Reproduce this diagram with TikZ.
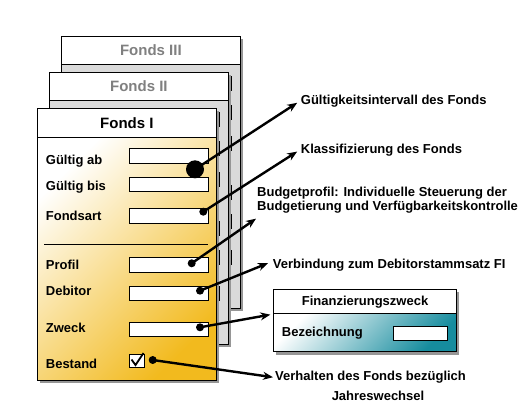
\documentclass[tikz,border=0pt]{standalone}
\usepackage{fontspec}
\setmainfont{Liberation Sans}
\usetikzlibrary{shapes,arrows.meta,positioning}

\definecolor{fondsorange}{RGB}{242,186,30}
\definecolor{fzteal}{RGB}{22,140,158}
\definecolor{blattgrau}{RGB}{218,218,218}
\definecolor{titelgrau}{RGB}{128,128,128}
\definecolor{schattengrau}{RGB}{150,150,150}

\tikzset{
	kopf/.style={draw, fill=white, anchor=north west, inner sep=0pt, line width=0.8pt,
		font=\fontsize{15}{18}\selectfont\bfseries},
	feld/.style={draw, fill=white, anchor=north west, inner sep=0pt, line width=0.8pt,
		minimum width=78.4pt, minimum height=14.5pt},
	lab/.style={anchor=base west, inner sep=1pt, font=\fontsize{13}{15}\selectfont\bfseries},
	txt/.style={anchor=base west, inner sep=1pt, font=\fontsize{13}{15}\selectfont\bfseries},
	punkt/.style={circle, fill=black, inner sep=0pt, minimum size=8pt},
	pfeil/.style={line width=2.4pt, -{Stealth[length=10pt,width=8pt]}},
	schatten/.style={fill=schattengrau}
}

\begin{document}
\begin{tikzpicture}[x=1pt,y=-1pt]
	\useasboundingbox (0,0) rectangle (527,407);
	
	% hintere Blaetter
	\foreach \dx/\dy/\titel in {61/36/Fonds III, 49/72/Fonds II} {
		\fill[schatten] (\dx+3,\dy+3) rectangle ++(179,272);
		\draw[fill=blattgrau, line width=0.8pt] (\dx,\dy) rectangle ++(179,272);
		\foreach \fy in {40,69,100,149,178,214}
			\draw[fill=white, line width=0.6pt] (\dx+92.3,\dy+\fy) rectangle ++(78.4,14.5);
		\node[kopf, text=titelgrau, minimum width=179pt, minimum height=28pt] at (\dx,\dy) {\titel};
	}
	
	% Fonds I
	\fill[schatten] (40,111) rectangle (219,383);
	\shade[top color=white, bottom color=fondsorange, shading angle=45] (37,137) rectangle (216,380);
	\draw[line width=0.8pt] (37,108) rectangle (216,380);
	\node[kopf, minimum width=179pt, minimum height=29pt] (kopf1) at (37,108) {Fonds I};
	
	\node[lab] (labab) at (44.7,164) {Gültig ab};
	\node[lab] (labbis) at (44.7,190.7) {Gültig bis};
	\node[lab] (labart) at (44.7,220.7) {Fondsart};
	\node[lab] (labprofil) at (44.7,269) {Profil};
	\node[lab] (labdeb) at (44.7,295.7) {Debitor};
	\node[lab] (labzweck) at (44.7,332.3) {Zweck};
	\node[lab] (labbest) at (44.7,368.3) {Bestand};
	
	\node[feld] (feldab) at (129.3,148.3) {};
	\node[feld] (feldbis) at (129.3,176.7) {};
	\node[feld] (feldart) at (129.3,208.3) {};
	\draw[line width=0.8pt] (44,244) -- (207.7,244);
	\node[feld] (feldprofil) at (129.3,257.3) {};
	\node[feld] (felddeb) at (129.3,285.7) {};
	\node[feld] (feldzweck) at (129.3,321.7) {};
	\node[feld, minimum width=14.7pt, minimum height=12.7pt] (check) at (129.3,354) {};
	\draw[line width=1.8pt] (131.5,359.5) -- (135.5,365) -- (143.5,353);
	
	% Finanzierungszweck
	\fill[schatten] (276.3,292.3) rectangle (459,354.7);
	\shade[top color=white, bottom color=fzteal, shading angle=45] (273.3,313.3) rectangle (456,351.7);
	\draw[line width=0.8pt] (273.3,289.3) rectangle (456,351.7);
	\node[kopf, minimum width=182.7pt, minimum height=24pt, font=\fontsize{13}{15}\selectfont\bfseries] (fzkopf) at (273.3,289.3) {Finanzierungszweck};
	\node[lab] (labbez) at (280.7,336) {Bezeichnung};
	\node[feld, minimum width=53.4pt, minimum height=14pt] (feldbez) at (393.3,326) {};
	
	% Erlaeuterungen
	\node[txt] (tgueltig) at (299.7,104.5) {Gültigkeitsintervall des Fonds};
	\node[txt] (tklass) at (299.7,153.3) {Klassifizierung des Fonds};
	\node[txt] (tbudget) at (256,196) {Budgetprofil: Individuelle Steuerung der};
	\node[txt] (tbudget2) at (256,210.7) {Budgetierung und Verfügbarkeitskontrolle};
	\node[txt] (tverb) at (271.7,268) {Verbindung zum Debitorstammsatz FI};
	\node[txt] (tverh) at (274,380.7) {Verhalten des Fonds bezüglich};
	\node[txt, anchor=base] (tjahr) at (378,400) {Jahreswechsel};
	
	% Punkte
	\node[punkt, minimum size=18pt] (pab) at (195,169.3) {};
	\node[punkt] (part) at (203.3,211.7) {};
	\node[punkt] (pprofil) at (191.7,263.3) {};
	\node[punkt] (pdeb) at (200,290.7) {};
	\node[punkt] (pzweck) at (200,327.3) {};
	\node[punkt] (pbest) at (152.7,360) {};
	
	\draw[pfeil, shorten >=3pt] (pab.center) -- (tgueltig.west);
	\draw[pfeil, shorten >=3pt] (part.center) -- (tklass.west);
	\draw[pfeil] (pprofil.center) -- ([yshift=-4pt]tbudget2.south west);
	\draw[pfeil, shorten >=4pt] (pdeb.center) -- ([yshift=3pt]tverb.west);
	\draw[pfeil, shorten >=3pt] (pzweck.center) -- (fzkopf.south west);
	\draw[pfeil, shorten >=1pt] (pbest.center) -- (tverh.west);
\end{tikzpicture}
\end{document}
